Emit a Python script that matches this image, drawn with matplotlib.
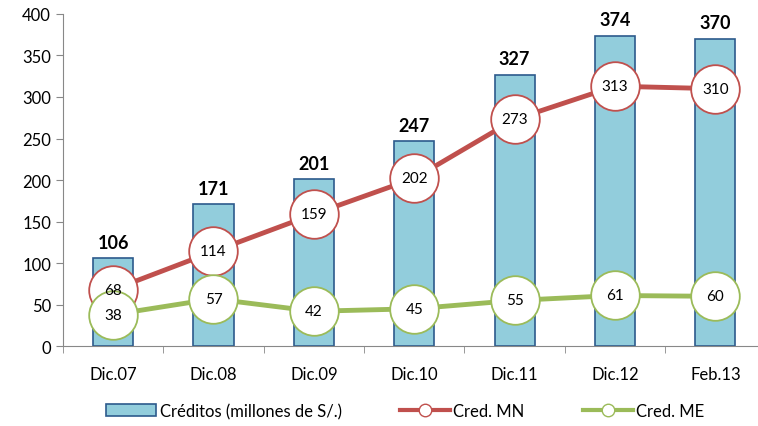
import matplotlib
matplotlib.use('Agg')
import matplotlib.pyplot as plt
import numpy as np

plt.rcParams['font.family'] = ['Lato', 'DejaVu Sans']

categories = ['Dic.07', 'Dic.08', 'Dic.09', 'Dic.10', 'Dic.11', 'Dic.12', 'Feb.13']
creditos = [106, 171, 201, 247, 327, 374, 370]
cred_mn = [68, 114, 159, 202, 273, 313, 310]
cred_me = [38, 57, 42, 45, 55, 61, 60]

bar_color = '#92CDDC'
bar_edge = '#2C5A8C'
red = '#C0504D'
green = '#9BBB59'
axis_gray = '#888888'

fig = plt.figure(figsize=(7.58, 4.27), dpi=100)
ax = fig.add_axes([0.083, 0.187, 0.927, 0.778])

x = np.arange(len(categories))
ax.bar(x, creditos, width=0.4, color=bar_color, edgecolor=bar_edge, linewidth=1.2,
       label='Créditos (millones de S/.)', zorder=2)
for xi, v in zip(x, creditos):
    ax.text(xi, v + 9, str(v), ha='center', va='bottom', fontsize=13, fontweight='bold')

ax.plot(x, cred_mn, color=red, lw=3.5, marker='o', ms=35, mfc='white', mec=red, mew=1.3,
        label='Cred. MN', zorder=3)
ax.plot(x, cred_me, color=green, lw=3.5, marker='o', ms=35, mfc='white', mec=green, mew=1.3,
        label='Cred. ME', zorder=3)
for xi, v in zip(x, cred_mn):
    ax.text(xi, v, str(v), ha='center', va='center', fontsize=11, zorder=5)
for xi, v in zip(x, cred_me):
    ax.text(xi, v, str(v), ha='center', va='center', fontsize=11, zorder=5)

ax.set_xlim(-0.5, 6.5)
ax.set_ylim(0, 400)
ax.set_yticks(range(0, 401, 50))
ax.set_xticks(x)
ax.set_xticklabels(categories, fontsize=12)
ax.tick_params(axis='x', length=0, pad=14)
ax.set_xticks(np.arange(-0.5, 7, 1), minor=True)
ax.tick_params(axis='x', which='minor', length=5, color=axis_gray, direction='out')
ax.tick_params(axis='y', labelsize=12, length=5, color=axis_gray, direction='out')
for s in ['top', 'right']:
    ax.spines[s].set_visible(False)
for s in ['left', 'bottom']:
    ax.spines[s].set_color(axis_gray)

leg_handles = [
    plt.Rectangle((0, 0), 1, 1, facecolor=bar_color, edgecolor=bar_edge, linewidth=1.2),
    plt.Line2D([], [], color=red, lw=3, marker='o', ms=9, mfc='white', mec=red),
    plt.Line2D([], [], color=green, lw=3, marker='o', ms=9, mfc='white', mec=green),
]
fig.legend(leg_handles, ['Créditos (millones de S/.)', 'Cred. MN', 'Cred. ME'],
           loc='center', bbox_to_anchor=(0.535, 0.035), ncol=3, frameon=False,
           fontsize=12, handlelength=3, columnspacing=3.5, handletextpad=0.2)

fig.savefig('out.png', dpi=100)
